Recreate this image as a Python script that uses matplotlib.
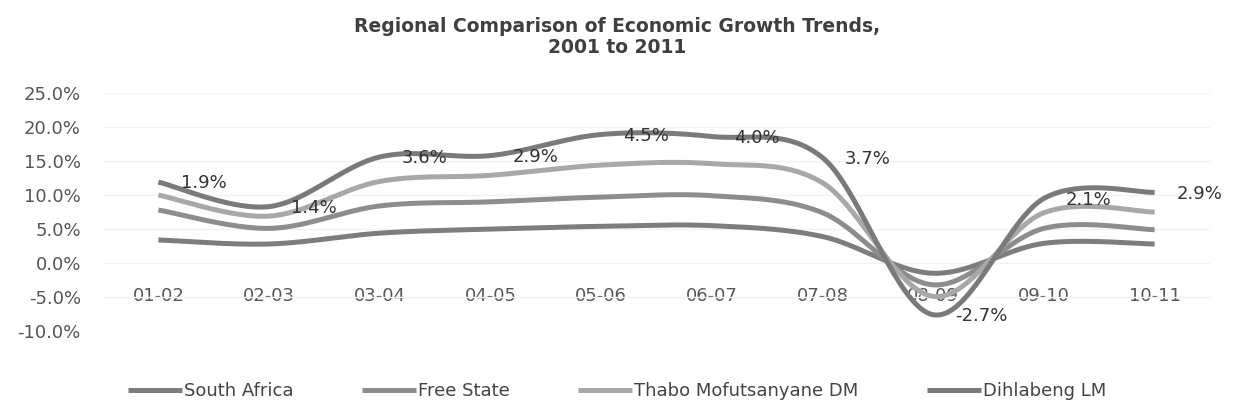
import numpy as np
import matplotlib.pyplot as plt

# growth rates per period, in percent
periods = ["01-02", "02-03", "03-04", "04-05", "05-06",
           "06-07", "07-08", "08-09", "09-10", "10-11"]
south_africa = [3.4, 2.8, 4.4, 5.0, 5.4, 5.5, 3.9, -1.5, 2.9, 2.8]
free_state = [4.4, 2.3, 4.0, 4.0, 4.3, 4.4, 3.5, -1.7, 2.2, 2.1]
thabo_mofutsanyane = [2.2, 1.8, 3.6, 3.9, 4.7, 4.7, 4.4, -1.7, 2.3, 2.6]
dihlabeng = [1.9, 1.4, 3.6, 2.9, 4.5, 4.0, 3.7, -2.7, 2.1, 2.9]

series_names = ["South Africa", "Free State", "Thabo Mofutsanyane DM", "Dihlabeng LM"]
series_colors = ["#7f7c7c", "#8f8c8c", "#aaa7a7", "#7c7979"]


def smooth_curve(x, y, steps=40):
    # Catmull-Rom style bezier through every point (like a smoothed line)
    x = np.asarray(x, float)
    y = np.asarray(y, float)
    px = np.concatenate([[x[0]], x, [x[-1]]])
    py = np.concatenate([[y[0]], y, [y[-1]]])
    t = np.linspace(0, 1, steps)
    xs, ys = [], []
    for i in range(1, len(px) - 2):
        p0 = np.array([px[i], py[i]])
        p3 = np.array([px[i + 1], py[i + 1]])
        c1 = p0 + (p3 - np.array([px[i - 1], py[i - 1]])) / 6
        c2 = p3 - (np.array([px[i + 2], py[i + 2]]) - p0) / 6
        b = ((1 - t) ** 3)[:, None] * p0 + (3 * (1 - t) ** 2 * t)[:, None] * c1 \
            + (3 * (1 - t) * t ** 2)[:, None] * c2 + (t ** 3)[:, None] * p3
        xs.append(b[:, 0])
        ys.append(b[:, 1])
    return np.concatenate(xs), np.concatenate(ys)


plt.rcParams['font.family'] = 'DejaVu Sans'

fig = plt.figure(figsize=(12.34, 4.17), dpi=100)
ax = fig.add_axes([0.0835, 0.206, 0.897, 0.571])

# stacked lines: each series sits on top of the ones before it
stack = np.cumsum(np.array([south_africa, free_state, thabo_mofutsanyane, dihlabeng]), axis=0)
xpos = np.arange(len(periods))

for name, color, level in zip(series_names, series_colors, stack):
    sx, sy = smooth_curve(xpos, level)
    ax.plot(sx, sy, color=color, linewidth=3.6, solid_capstyle='butt', label=name, zorder=3)

# value labels of the top series
for xi, top, val in zip(xpos, stack[-1], dihlabeng):
    ax.annotate(f"{val:.1f}%", (xi, top), xytext=(16, -1), textcoords='offset points',
                ha='left', va='center', fontsize=13, color='#333333', zorder=4)

ax.set_xlim(-0.5, len(periods) - 0.5)
ax.set_ylim(-10, 25)
ax.set_yticks(np.arange(-10, 26, 5))
ax.set_yticklabels([f"{v:.1f}%" for v in np.arange(-10, 26, 5)])
ax.set_xticks(xpos)
ax.set_xticklabels(periods)

ax.spines['bottom'].set_position(('data', 0))
for side in ['top', 'right', 'left', 'bottom']:
    ax.spines[side].set_visible(False)
ax.tick_params(axis='x', length=0, pad=17, labelsize=13, labelcolor='#555555')
ax.tick_params(axis='y', length=0, pad=16, labelsize=13, labelcolor='#555555')
ax.grid(axis='y', color='#f2f2f2', linewidth=1, zorder=0)
ax.set_axisbelow(True)

fig.text(0.5, 1 - 37 / 417, "Regional Comparison of Economic Growth Trends,\n2001 to 2011",
         ha='center', va='center', fontsize=13.5, fontweight='bold', color='#3f3f3f',
         linespacing=1.1)

fig.legend(loc='center', bbox_to_anchor=(0.5, 1 - 391 / 417), ncol=4, frameon=False,
           fontsize=13, handlelength=3.0, handletextpad=0.1, columnspacing=3.8,
           labelcolor='#444444')

fig.savefig("out.png", dpi=100)
